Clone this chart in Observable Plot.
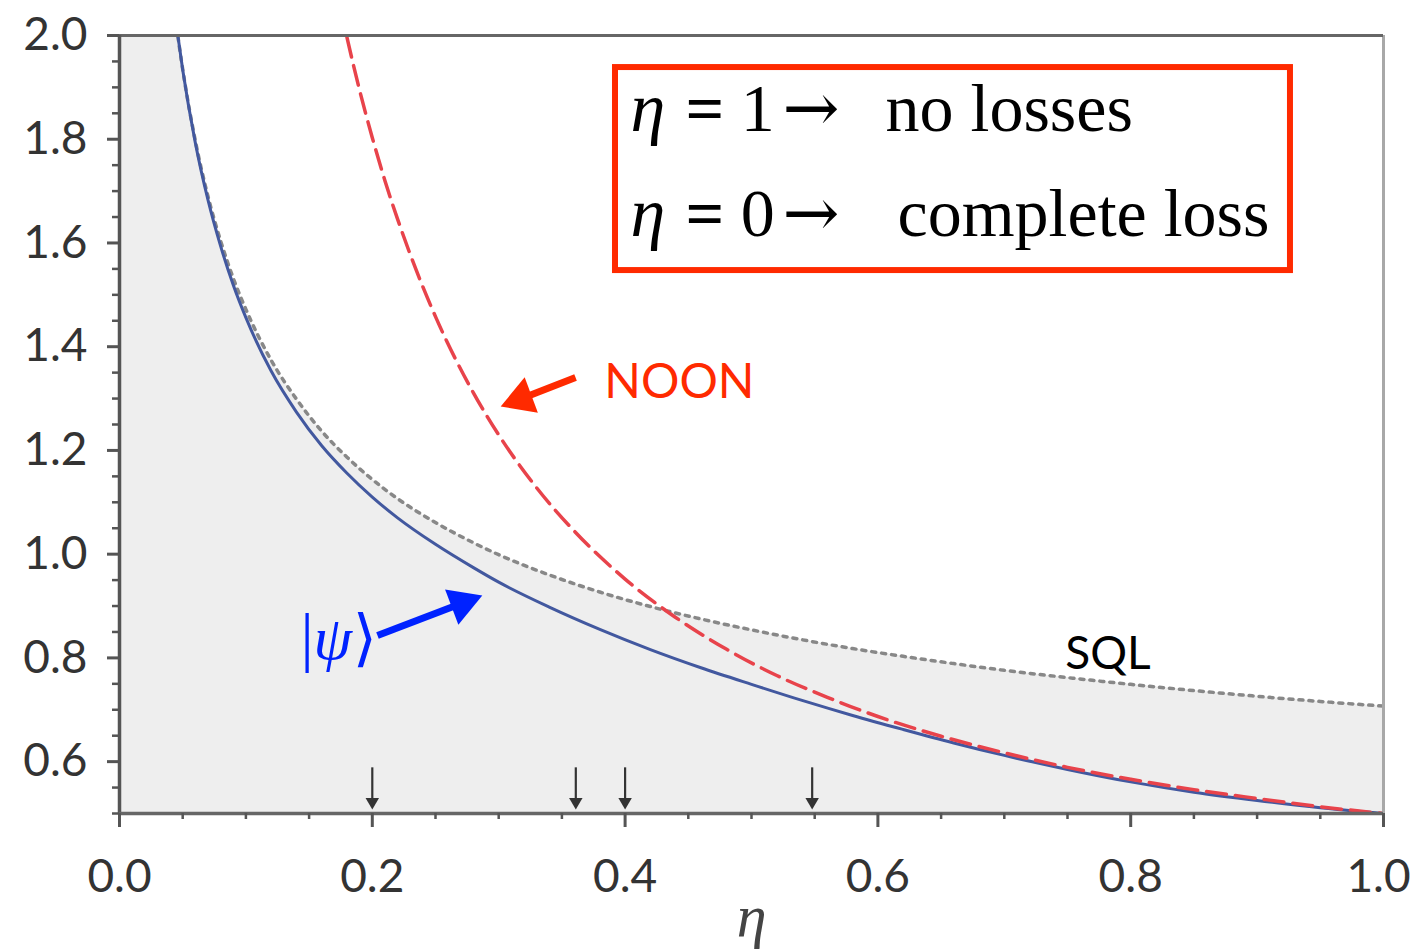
<!DOCTYPE html>
<html>
<head>
<meta charset="utf-8">
<script src="https://cdn.jsdelivr.net/npm/d3@7"></script>
<script src="https://cdn.jsdelivr.net/npm/@observablehq/plot@0.6"></script>
<style>
  html, body { margin: 0; padding: 0; background: #fff; }
  svg { display: block; }
</style>
</head>
<body>
<div id="chart"></div>
<script>
// ---- data ----
const sqlEta   = [0.001,0.01,0.02,0.03,0.04,0.045,0.05,0.06,0.07,0.08,0.09,0.10,0.12,0.14,0.16,0.18,0.20,0.22,0.25,0.28,0.30,0.34,0.38,0.42,0.46,0.50,0.54,0.58,0.62,0.66,0.70,0.75,0.80,0.85,0.90,0.95,1.00];
const sqlValue = [11.5,3.89,2.85,2.395,2.121,2.020,1.935,1.797,1.690,1.604,1.532,1.472,1.374,1.299,1.237,1.187,1.144,1.107,1.061,1.022,0.999,0.960,0.927,0.899,0.875,0.854,0.835,0.818,0.803,0.789,0.776,0.762,0.749,0.737,0.726,0.716,0.707];

const blueEta   = [0.045,0.05,0.06,0.07,0.08,0.09,0.10,0.12,0.14,0.16,0.18,0.20,0.22,0.25,0.28,0.30,0.34,0.38,0.42,0.46,0.50,0.54,0.58,0.62,0.66,0.70,0.75,0.80,0.85,0.90,0.95,1.00];
const blueValue = [2.020,1.934,1.793,1.683,1.594,1.519,1.456,1.353,1.274,1.209,1.156,1.110,1.070,1.019,0.974,0.946,0.898,0.855,0.816,0.781,0.749,0.718,0.689,0.662,0.636,0.612,0.585,0.561,0.541,0.525,0.511,0.500];

const noonEta   = [0.175,0.18,0.19,0.20,0.21,0.22,0.235,0.25,0.28,0.30,0.33,0.36,0.40,0.44,0.48,0.52,0.56,0.60,0.65,0.70,0.75,0.80,0.85,0.90,0.95,1.00];
const noonValue = [2.051,1.996,1.894,1.803,1.720,1.646,1.546,1.458,1.311,1.230,1.128,1.044,0.952,0.878,0.817,0.766,0.724,0.687,0.649,0.617,0.589,0.566,0.546,0.529,0.513,0.500];

const xMajor = [0, 0.2, 0.4, 0.6, 0.8];
const xLast  = [1.0];
const xMinor = [0.05,0.1,0.15,0.25,0.3,0.35,0.45,0.5,0.55,0.65,0.7,0.75,0.85,0.9,0.95];
const yMajor = [0.6, 0.8, 1.0, 1.2, 1.4, 1.6, 1.8, 2.0];
const yMinor = [0.5,0.55,0.65,0.7,0.75,0.85,0.9,0.95,1.05,1.1,1.15,1.25,1.3,1.35,1.45,1.5,1.55,1.65,1.7,1.75,1.85,1.9,1.95];

const markerEta = [0.2, 0.361, 0.4, 0.548];

// ---- tables built from the arrays ----
const sql  = sqlEta.map((e, i) => ({eta: e, v: sqlValue[i]}));
const blue = blueEta.map((e, i) => ({eta: e, v: blueValue[i]}));
const noon = noonEta.map((e, i) => ({eta: e, v: noonValue[i]}));
const markers = markerEta.map(e => ({eta: e, top: 0.589, head: 0.5225}));

const RED = "#ff2a00";
const BLUE = "#0022ff";
const serif = "'Liberation Serif', 'DejaVu Serif', serif";
const sans = "Lato, 'Open Sans', sans-serif";

const chart = Plot.plot({
  width: 1414,
  height: 950,
  marginLeft: 119,
  marginRight: 31,
  marginTop: 35,
  marginBottom: 137,
  x: {domain: [0, 1]},
  y: {domain: [0.5, 2.0]},
  style: {fontFamily: sans, color: "#333", background: "#fff"},
  marks: [
    // shaded region under the SQL
    Plot.areaY(sql, {x: "eta", y1: 0.5, y2: "v", fill: "#eeeeee", curve: "monotone-x", clip: true}),
    // SQL (dotted)
    Plot.line(sql, {x: "eta", y: "v", stroke: "#888", strokeWidth: 3.5, strokeDasharray: "4,6", curve: "monotone-x", clip: true}),
    // optimal state |psi>
    Plot.line(blue, {x: "eta", y: "v", stroke: "#42589f", strokeWidth: 3, curve: "monotone-x", clip: true}),
    // NOON (dashed)
    Plot.line(noon, {x: "eta", y: "v", stroke: "#e8434b", strokeWidth: 3.5, strokeDasharray: "20,9", curve: "monotone-x", clip: true}),

    // frame / axis lines
    Plot.ruleX([1], {stroke: "#a8a8a8", strokeWidth: 3}),
    Plot.ruleY([2.0], {stroke: "#666", strokeWidth: 3}),
    Plot.ruleX([0], {stroke: "#555", strokeWidth: 3.5}),
    Plot.ruleY([0.5], {stroke: "#666", strokeWidth: 3.5}),

    // axes
    Plot.axisX({ticks: xMajor, tickSize: 14, tickPadding: 32, fontSize: 46, tickFormat: d3.format(".1f"), stroke: "#555", strokeWidth: 3, label: null}),
    Plot.axisX({ticks: xLast, tickSize: 14, tickFormat: () => "", stroke: "#555", strokeWidth: 3, label: null}),
    Plot.axisX({ticks: xLast, tickSize: 0, tickPadding: 46, fontSize: 46, dx: -5, tickFormat: d3.format(".1f"), label: null}),
    Plot.axisX({ticks: xMinor, tickSize: 6, tickFormat: () => "", stroke: "#555", strokeWidth: 2.5, label: null}),
    Plot.axisY({ticks: yMajor, tickSize: 12, tickPadding: 20, fontSize: 46, tickFormat: d3.format(".1f"), stroke: "#555", strokeWidth: 3, label: null}),
    Plot.axisY({ticks: yMinor, tickSize: 7, tickFormat: () => "", stroke: "#555", strokeWidth: 2.5, label: null}),

    // small down arrows on the axis
    Plot.link(markers, {x1: "eta", x2: "eta", y1: "top", y2: "head", stroke: "#333", strokeWidth: 2.2}),
    Plot.dot(markers, {x: "eta", y: "head", symbol: "triangle", r: 5, rotate: 180, fill: "#333", stroke: "none"}),

    // NOON annotation
    Plot.link([{x1: 0.3608, y1: 1.3406, x2: 0.3177, y2: 1.2995}], {x1: "x1", y1: "y1", x2: "x2", y2: "y2", stroke: RED, strokeWidth: 7}),
    Plot.dot([{x: 0.3177, y: 1.2995}], {x: "x", y: "y", symbol: "triangle", r: 14, rotate: -110.5, fill: RED, stroke: "none"}),
    Plot.text(["NOON"], {x: 0.443, y: 1.302, text: d => d, textAnchor: "middle", lineAnchor: "bottom", fill: RED, fontSize: 48, fontFamily: sans}),

    // |psi> annotation
    Plot.link([{x1: 0.2041, y1: 0.8432, x2: 0.2709, y2: 0.9054}], {x1: "x1", y1: "y1", x2: "x2", y2: "y2", stroke: BLUE, strokeWidth: 7}),
    Plot.dot([{x: 0.2709, y: 0.9054}], {x: "x", y: "y", symbol: "triangle", r: 14, rotate: 69.4, fill: BLUE, stroke: "none"}),
    Plot.text(["|"], {x: 0.1432, y: 0.797, text: d => d, textAnchor: "start", lineAnchor: "bottom", fill: BLUE, fontSize: 66, fontFamily: serif}),
    Plot.text(["ψ"], {x: 0.1535, y: 0.797, text: d => d, textAnchor: "start", lineAnchor: "bottom", fill: BLUE, fontSize: 62, fontStyle: "italic", fontFamily: serif}),
    Plot.text(["⟩"], {x: 0.1845, y: 0.797, text: d => d, textAnchor: "start", lineAnchor: "bottom", fill: BLUE, fontSize: 62, fontFamily: serif}),

    // SQL label
    Plot.text(["SQL"], {x: 0.782, y: 0.7795, text: d => d, textAnchor: "middle", lineAnchor: "bottom", fill: "#000", fontSize: 46, fontFamily: sans}),

    // legend box
    Plot.rect([{x1: 0.3924, x2: 0.9264, y1: 1.5468, y2: 1.9382}], {x1: "x1", x2: "x2", y1: "y1", y2: "y2", fill: "#fff", stroke: RED, strokeWidth: 6}),
    Plot.text(["η", "η"], {x: 0.4043, y: [1.8168, 1.6143], text: d => d, textAnchor: "start", lineAnchor: "bottom", fill: "#000", fontSize: 70, fontStyle: "italic", fontFamily: serif}),
    Plot.text(["=", "="], {x: 0.4478, y: [1.8168, 1.6143], text: d => d, textAnchor: "start", lineAnchor: "bottom", fill: "#000", fontSize: 68, fontWeight: "bold", fontFamily: serif}),
    Plot.text(["1", "0"], {x: 0.4915, y: [1.8168, 1.6143], text: d => d, textAnchor: "start", lineAnchor: "bottom", fill: "#000", fontSize: 68, fontFamily: serif}),
    Plot.text(["→", "→"], {x: 0.5245, y: [1.8168, 1.6143], text: d => d, textAnchor: "start", lineAnchor: "bottom", fill: "#000", fontSize: 68, fontFamily: "'DejaVu Serif', serif"}),
    Plot.text(["no losses", "complete loss"], {x: [0.6060, 0.6155], y: [1.8168, 1.6143], text: d => d, textAnchor: "start", lineAnchor: "bottom", fill: "#000", fontSize: 68, fontFamily: serif}),

    // x-axis label
    Plot.text(["η"], {x: 0.5, y: 0.5, dy: 122, text: d => d, textAnchor: "middle", lineAnchor: "bottom", fill: "#444", fontSize: 60, fontStyle: "italic", fontFamily: serif})
  ]
});
document.getElementById("chart").appendChild(chart);
</script>
</body>
</html>
